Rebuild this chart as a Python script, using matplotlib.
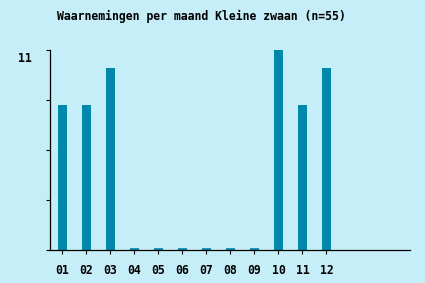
import matplotlib
matplotlib.use('Agg')
import matplotlib.pyplot as plt
import matplotlib.transforms as mtransforms
import numpy as np

# monthly sightings, Kleine zwaan (n=55)
months = ['01', '02', '03', '04', '05', '06', '07', '08', '09', '10', '11', '12']
counts = [8, 8, 10, 0, 0, 0, 0, 0, 0, 11, 8, 10]
ymax = 11
title = 'Waarnemingen per maand Kleine zwaan (n=55)'

bg = '#c6eef8'
barc = '#0088aa'
font = {'family': 'DejaVu Sans Mono', 'weight': 'bold', 'size': 8.3}

W, H = 425, 283
fig = plt.figure(figsize=(W / 100, H / 100), dpi=100, facecolor=bg)
ax = fig.add_axes([50 / W, 1 - 250 / H, 360 / W, 200 / H], facecolor=bg)

x = np.arange(len(months))
lw = [2.6 if v == 0 else 0 for v in counts]
ax.bar(x, counts, width=0.375, color=barc, edgecolor=barc, linewidth=lw)

ax.set_xlim(-0.52, 14.48)
ax.set_ylim(0, ymax)
ax.set_xticks(x)
ax.set_xticklabels(months, fontdict=font)
yt = np.linspace(0, ymax, 5)
ax.set_yticks(yt)
ax.set_yticklabels(['' for _ in yt[:-1]] + [str(ymax)], fontdict=font)
for s in ['top', 'right']:
    ax.spines[s].set_visible(False)
for s in ['left', 'bottom']:
    ax.spines[s].set_linewidth(0.9)
    ax.spines[s].set_zorder(3)
ax.tick_params(axis='x', length=3, width=0.8, pad=7)
ax.tick_params(axis='y', length=3, width=0.8, pad=10)
shift = mtransforms.ScaledTranslation(0, -7 / 100, fig.dpi_scale_trans)
for lab in ax.get_yticklabels():
    lab.set_transform(lab.get_transform() + shift)

fig.text(201 / W, 1 - 16 / H, title, ha='center', va='center', **font)
fig.savefig('out.png', dpi=100, facecolor=bg)
